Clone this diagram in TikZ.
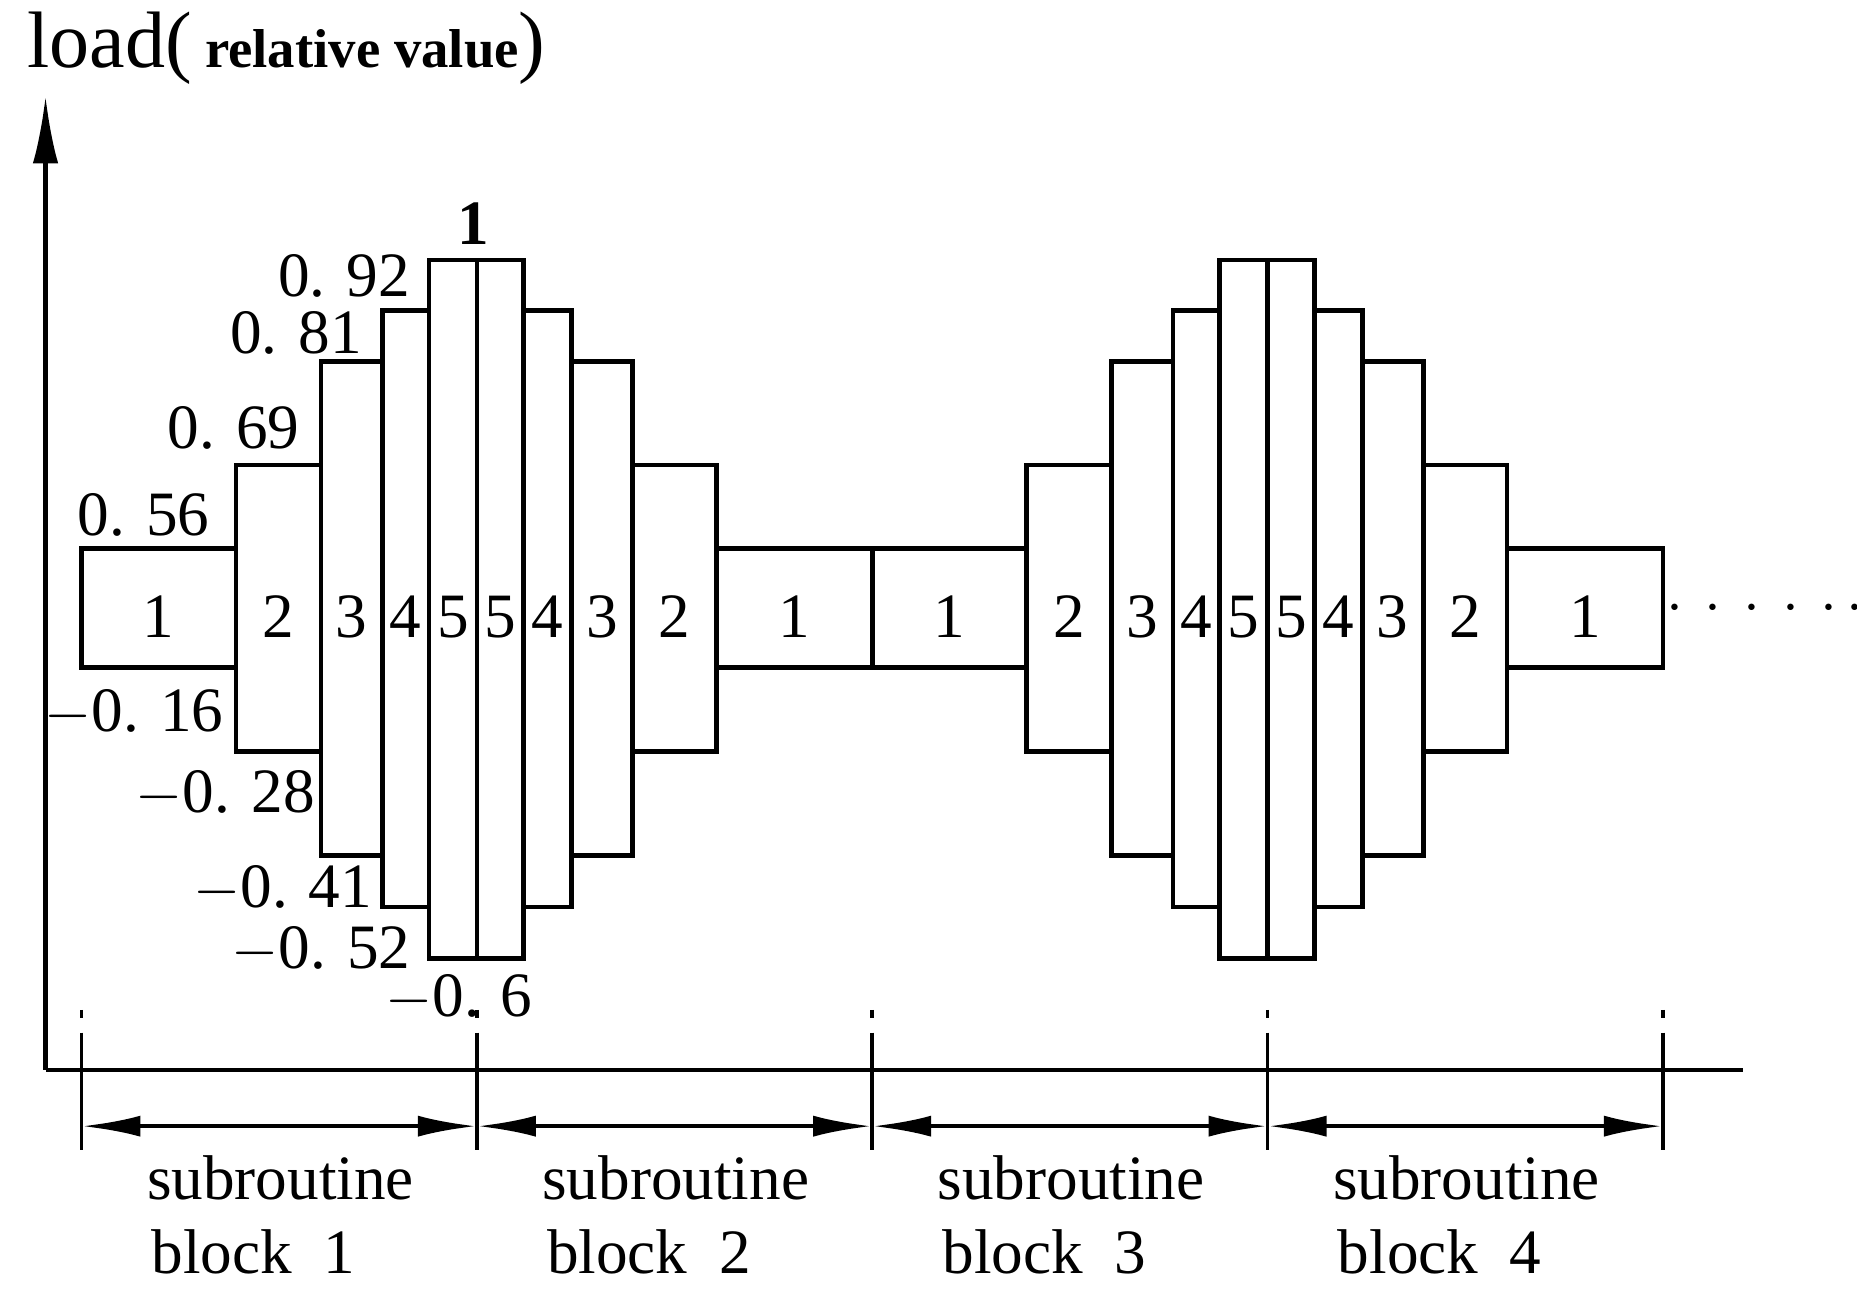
\documentclass[tikz,border=0pt]{standalone}
\usepackage{fontspec}
\setmainfont{Liberation Serif}
\usetikzlibrary{arrows.meta}
\begin{document}
\begin{tikzpicture}[x=0.01cm,y=-0.01cm,
  bx/.style={draw,line width=1.1pt},
  num/.style={font=\fontsize{15}{18}\selectfont,inner sep=0pt},
  val/.style={font=\fontsize{15}{18}\selectfont,inner sep=0pt},
  lab/.style={font=\fontsize{15}{18}\selectfont,inner sep=0pt,anchor=west},
  dim/.style={line width=1.1pt,{Latex[length=14pt,width=5pt]}-{Latex[length=14pt,width=5pt]}},
  tick/.style={line width=0.9pt}]
\useasboundingbox (0,0) rectangle (1550,1076);
% axes
\coordinate (O) at (38,893);
\coordinate (Ytop) at (38,80);
\coordinate (Xend) at (1455,893);
\draw[line width=1.1pt,-{Latex[length=16pt,width=6pt]}] (O) -- (Ytop);
\draw[line width=1.1pt] (O) -- (Xend);
\node[inner sep=0pt,anchor=west] (title) at (22,40) {\fontsize{19}{22}\selectfont load(\,\textbf{\fontsize{13}{16}\selectfont relative value})};
\newcommand\mybox[6]{\draw[bx] (#1,#3) rectangle (#2,#4); \node[num] (#6) at ({(#1+#2)/2},515) {#5};}
\foreach \s/\p in {0/a,660/b}{
\begin{scope}[xshift=\s*0.01cm]
\mybox{68}{197}{458}{557}{1}{\p1}
\mybox{197}{268}{388}{627}{2}{\p2}
\mybox{268}{319}{302}{714}{3}{\p3}
\mybox{319}{358}{259}{757}{4}{\p4}
\mybox{358}{398}{217}{800}{5}{\p5}
\mybox{398}{437}{217}{800}{5}{\p6}
\mybox{437}{477}{259}{757}{4}{\p7}
\mybox{477}{528}{302}{714}{3}{\p8}
\mybox{528}{598}{388}{627}{2}{\p9}
\mybox{598}{728}{458}{557}{1}{\p10}
\end{scope}}
\node[num,anchor=west] (dots) at (1390,508) {$\cdot\kern2pt\cdot\kern2pt\cdot\kern2pt\cdot\kern2pt\cdot\kern2pt\cdot$};
% value labels
\node[val] (v56) at (120,430) {0. 56};
\node[val] (v69) at (195,357) {0. 69};
\node[val] (v81) at (247,278) {0. 81};
\node[val] (v92) at (287,230) {0. 92};
\node[val] (v1) at (395,187) {\textbf{1}};
\node[val] (m16) at (112,595) {$-$0. 16};
\node[val] (m28) at (188,663) {$-$0. 28};
\node[val] (m41) at (236,742) {$-$0. 41};
\node[val] (m52) at (268,793) {$-$0. 52};
\node[val] (m6) at (383,833) {$-$0.\,\,6};
% dimension lines
\foreach \i/\x in {0/68,1/398,2/728,3/1058,4/1388}{
  \coordinate (t\i) at (\x,940);
  \draw[tick] (\x,843) -- (\x,850);
  \draw[tick] (\x,862) -- (\x,960);
}
\foreach \i/\j in {0/1,1/2,2/3,3/4}{ \draw[dim] (t\i) -- (t\j); }
\foreach \i/\x in {1/122,2/452,3/782,4/1112}{
  \node[lab] (s\i) at (\x,983) {subroutine};
  \node[lab] (k\i) at (\x+4,1045) {block\ \ \i};
}
\end{tikzpicture}
\end{document}
